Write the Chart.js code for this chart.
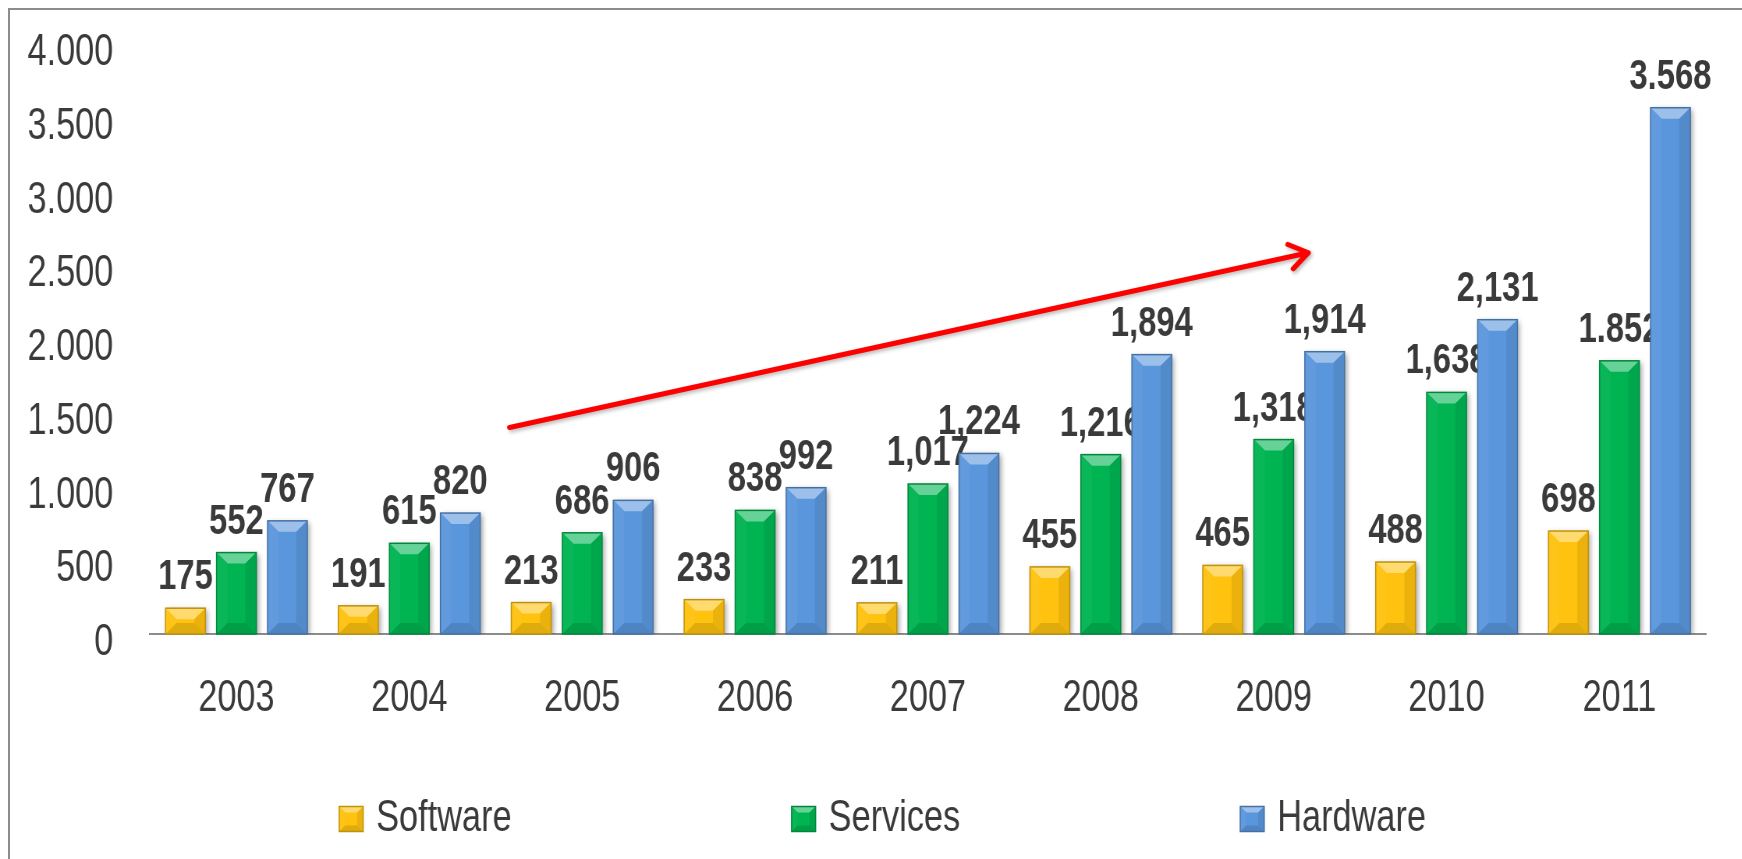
<!DOCTYPE html>
<html>
<head>
<meta charset="utf-8">
<title>Software, Services, Hardware</title>
<script src="https://cdn.jsdelivr.net/npm/chart.js@4.4.0/dist/chart.umd.min.js"></script>
<style>
    html, body { margin: 0; padding: 0; background: #fff; overflow: hidden; }
    #frame { position: absolute; left: 8px; top: 8px; width: 1800px; height: 900px; border: 2px solid #8c8c8c; }
    /* the original text is narrow, so the whole canvas is drawn wide and squeezed */
    #wrap { position: absolute; left: 0; top: 0; width: 2233px; height: 859px; transform: scaleX(0.78); transform-origin: 0 0; }
</style>
</head>
<body>
<div id="frame"></div>
<div id="wrap"><canvas id="barChart" width="2233" height="859"></canvas></div>
<script>
const SQUEEZE = 0.78;

const years = ['2003', '2004', '2005', '2006', '2007', '2008', '2009', '2010', '2011'];
const software = [175, 191, 213, 233, 211, 455, 465, 488, 698];
const services = [552, 615, 686, 838, 1017, 1216, 1318, 1638, 1852];
const hardware = [767, 820, 906, 992, 1224, 1894, 1914, 2131, 3568];
const seriesNames = ['Software', 'Services', 'Hardware'];
const seriesColors = ['#FFC20E', '#00B451', '#5A96DC'];
const yTickLabels = ['0', '500', '1.000', '1.500', '2.000', '2.500', '3.000', '3.500', '4.000'];
// the 2011 figures are written with a dot, the others with a comma
const thousandsSep = [',', ',', ',', ',', ',', ',', ',', ',', '.'];
// red trend arrow, [category index, value]
const trendFrom = [1.58, 1400];
const trendTo = [6.2, 2585];

const FONT = '"Liberation Sans", Arial, sans-serif';
const TEXT = '#3a3a3a';

function shade(hex, amt) {
    const n = parseInt(hex.slice(1), 16);
    const t = amt < 0 ? 0 : 255, p = Math.abs(amt);
    const c = [n >> 16, (n >> 8) & 255, n & 255].map(v => Math.round((t - v) * p + v));
    return 'rgb(' + c.join(',') + ')';
}

function poly(ctx, pts, color) {
    ctx.fillStyle = color;
    ctx.beginPath();
    ctx.moveTo(pts[0][0], pts[0][1]);
    for (let i = 1; i < pts.length; i++) ctx.lineTo(pts[i][0], pts[i][1]);
    ctx.closePath();
    ctx.fill();
}

// bevel edges drawn over a flat box
function bevel(ctx, x0, y0, x1, y1, color, b) {
    const bx = b / SQUEEZE, by = b;
    poly(ctx, [[x0, y0], [x1, y0], [x1 - bx, y0 + by], [x0 + bx, y0 + by]], shade(color, 0.4));
    poly(ctx, [[x0, y0], [x0 + bx, y0 + by], [x0 + bx, y1 - by], [x0, y1]], shade(color, 0.04));
    poly(ctx, [[x1, y0], [x1 - bx, y0 + by], [x1 - bx, y1 - by], [x1, y1]], shade(color, -0.08));
    poly(ctx, [[x0, y1], [x0 + bx, y1 - by], [x1 - bx, y1 - by], [x1, y1]], shade(color, -0.12));
    ctx.strokeStyle = shade(color, -0.25);
    ctx.lineWidth = 1.5;
    ctx.strokeRect(x0, y0, x1 - x0, y1 - y0);
}

function fmt(v, i) {
    if (v < 1000) return String(v);
    const s = String(v);
    return s.slice(0, s.length - 3) + thousandsSep[i] + s.slice(-3);
}

const barLook = {
    id: 'barLook',
    beforeDatasetsDraw(chart) {
        const ctx = chart.ctx;
        ctx.save();
        ctx.shadowColor = 'rgba(0,0,0,0.35)';
        ctx.shadowBlur = 6;
        ctx.shadowOffsetX = 3;
        ctx.shadowOffsetY = 2;
    },
    afterDatasetsDraw(chart) {
        const ctx = chart.ctx;
        ctx.restore();
        chart.data.datasets.forEach((ds, d) => {
            const meta = chart.getDatasetMeta(d);
            meta.data.forEach((bar, i) => {
                const x0 = bar.x - bar.width / 2, x1 = bar.x + bar.width / 2;
                const h = bar.base - bar.y;
                bevel(ctx, x0, bar.y, x1, bar.base, seriesColors[d], Math.min(11, h / 2.2));
                ctx.fillStyle = TEXT;
                ctx.font = 'bold 42px ' + FONT;
                ctx.textAlign = 'center';
                ctx.textBaseline = 'alphabetic';
                ctx.fillText(fmt(ds.data[i], i), bar.x, bar.y - 19);
            });
        });
    },
    afterDraw(chart) {
        const ctx = chart.ctx;
        const xs = chart.scales.x, ys = chart.scales.y;

        // trend arrow, drawn in unsqueezed units so the head keeps its shape
        const ax0 = xs.getPixelForValue(trendFrom[0]) * SQUEEZE, ay0 = ys.getPixelForValue(trendFrom[1]);
        const ax1 = xs.getPixelForValue(trendTo[0]) * SQUEEZE, ay1 = ys.getPixelForValue(trendTo[1]);
        const a = Math.atan2(ay1 - ay0, ax1 - ax0);
        ctx.save();
        ctx.scale(1 / SQUEEZE, 1);
        ctx.strokeStyle = '#FF0000';
        ctx.lineWidth = 5;
        ctx.lineCap = 'round';
        ctx.lineJoin = 'round';
        ctx.shadowColor = 'rgba(0,0,0,0.3)';
        ctx.shadowBlur = 4;
        ctx.shadowOffsetX = 2;
        ctx.shadowOffsetY = 2;
        ctx.beginPath();
        ctx.moveTo(ax0, ay0);
        ctx.lineTo(ax1, ay1);
        ctx.moveTo(ax1 - 22 * Math.cos(a - 0.6), ay1 - 22 * Math.sin(a - 0.6));
        ctx.lineTo(ax1, ay1);
        ctx.lineTo(ax1 - 22 * Math.cos(a + 0.6), ay1 - 22 * Math.sin(a + 0.6));
        ctx.stroke();
        ctx.restore();

        // legend
        ctx.save();
        ctx.font = '44px ' + FONT;
        const boxW = 24 / SQUEEZE, boxH = 25, textGap = 13 / SQUEEZE, itemGap = 280 / SQUEEZE;
        const widths = seriesNames.map(n => boxW + textGap + ctx.measureText(n).width);
        const total = widths.reduce((s, w) => s + w, 0) + itemGap * (widths.length - 1);
        let x = chart.width / 2 + 15 - total / 2;
        const yc = chart.height - 40;
        seriesNames.forEach((n, d) => {
            ctx.fillStyle = seriesColors[d];
            ctx.fillRect(x, yc - boxH / 2, boxW, boxH);
            bevel(ctx, x, yc - boxH / 2, x + boxW, yc + boxH / 2, seriesColors[d], 6);
            ctx.fillStyle = TEXT;
            ctx.textAlign = 'left';
            ctx.textBaseline = 'middle';
            ctx.fillText(n, x + boxW + textGap, yc);
            x += widths[d] + itemGap;
        });
        ctx.restore();
    }
};

const ctx = document.getElementById('barChart').getContext('2d');
new Chart(ctx, {
    type: 'bar',
    data: {
        labels: years,
        datasets: [software, services, hardware].map((vals, d) => ({
            label: seriesNames[d],
            data: vals,
            backgroundColor: seriesColors[d],
            borderWidth: 0,
            categoryPercentage: 0.885,
            barPercentage: 0.78
        }))
    },
    options: {
        responsive: false,
        animation: false,
        devicePixelRatio: 1,
        layout: { padding: { left: 0, right: 46, top: 44, bottom: 145 } },
        plugins: {
            legend: { display: false },
            tooltip: { enabled: false }
        },
        scales: {
            x: {
                grid: { display: false, drawTicks: false },
                border: { display: true, color: '#8c8c8c', width: 2 },
                ticks: { color: TEXT, font: { family: FONT, size: 44 }, padding: 38, maxRotation: 0 },
                afterFit(scale) { scale.height = 80; }
            },
            y: {
                min: 0,
                max: 4000,
                grid: { display: false, drawTicks: false },
                border: { display: false },
                ticks: {
                    stepSize: 500,
                    color: TEXT,
                    font: { family: FONT, size: 44 },
                    padding: 47,
                    labelOffset: 9,
                    callback: (v, i) => yTickLabels[i]
                },
                afterFit(scale) {
                    scale.width = 150 / SQUEEZE;
                    scale.paddingTop = 0;
                    scale.paddingBottom = 0;
                }
            }
        }
    },
    plugins: [barLook]
});
</script>
</body>
</html>
